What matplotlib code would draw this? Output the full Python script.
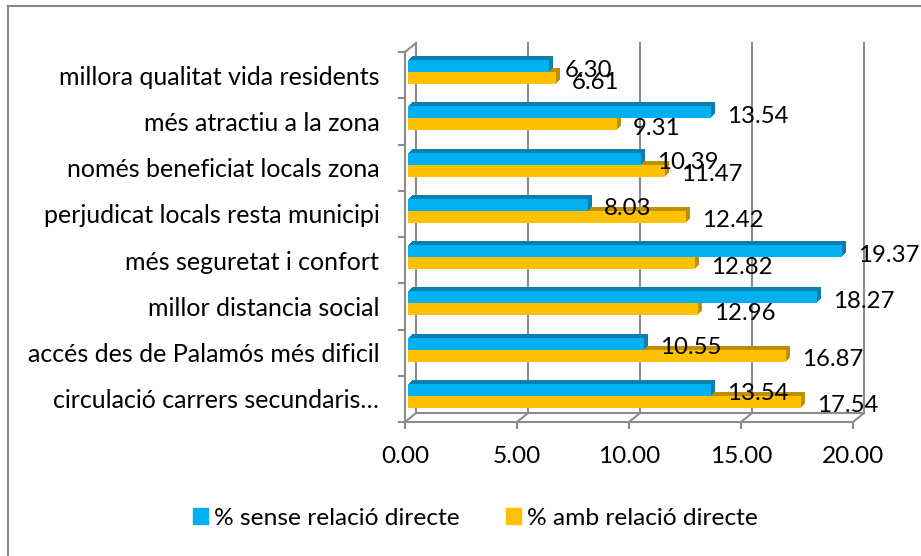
import matplotlib
matplotlib.use("Agg")
import matplotlib.pyplot as plt
import matplotlib.transforms as mtransforms
from matplotlib.lines import Line2D
from matplotlib.patches import Rectangle
from matplotlib.ticker import NullFormatter

categories = [
    "millora qualitat vida residents",
    "més atractiu a la zona",
    "només beneficiat locals zona",
    "perjudicat locals resta municipi",
    "més seguretat i confort",
    "millor distancia social",
    "accés des de Palamós més dificil",
    "circulació carrers secundaris…",
]
sense = [6.30, 13.54, 10.39, 8.03, 19.37, 18.27, 10.55, 13.54]
amb = [6.61, 9.31, 11.47, 12.42, 12.82, 12.96, 16.87, 17.54]
xticks = [0, 5, 10, 15, 20]
series = ["% sense relació directe", "% amb relació directe"]

plt.rcParams['font.family'] = ['Lato', 'DejaVu Sans']

BLUE, BLUE_D = '#00B0F0', '#0B7FAE'
ORANGE, ORANGE_D = '#FFC000', '#BE8F00'
GRID = '#8C8C8C'
LW = 1.5

W, H = 921, 556
fig = plt.figure(figsize=(W / 100, H / 100), dpi=100)
X0, X1, YT, YB = 405, 853, 52, 422
ax = fig.add_axes([X0 / W, 1 - YB / H, (X1 - X0) / W, (YB - YT) / H])
n = len(categories)
ax.patch.set_visible(False)
for s in ['top', 'right']:
    ax.spines[s].set_visible(False)
for s in ['left', 'bottom']:
    ax.spines[s].set_color(GRID)
    ax.spines[s].set_linewidth(LW)
    ax.spines[s].set_zorder(1)

renderer = fig.canvas.get_renderer()


def fit(text, px):
    t = fig.text(0, 0, text, fontsize=10)
    w = t.get_window_extent(renderer).width
    t.remove()
    return 10 * px / w


fs_cat = fit(categories[0], 322)
fs_tick = fit("20.00", 62)
fs_val = fit("19.37", 61)
fs_leg = fit(series[0], 246)

centers = [n - 0.5 - i for i in range(n)]
h = 0.26
yb = [c + h / 2 for c in centers]
yo = [c - h / 2 for c in centers]


def off(dx, dy):
    return mtransforms.offset_copy(ax.transData, fig=fig, x=dx, y=dy, units='dots')


depth = 4
for k in range(depth, 0, -1):
    ax.barh(yo, amb, height=h, color=ORANGE_D, linewidth=0, transform=off(3 + k, 3 + k), zorder=2)
ax.barh(yo, amb, height=h, color=ORANGE, linewidth=0, transform=off(3, 3), zorder=3)
for k in range(depth, 0, -1):
    ax.barh(yb, sense, height=h, color=BLUE_D, linewidth=0, transform=off(3 + k, 3 + k), zorder=3.5)
ax.barh(yb, sense, height=h, color=BLUE, linewidth=0, transform=off(3, 3), zorder=4)

ax.set_xlim(0, 20)
ax.set_ylim(0, n)

# value labels
for vals, ys in ((sense, yb), (amb, yo)):
    for v, y in zip(vals, ys):
        ax.annotate(f"{v:.2f}", xy=(v, y), xytext=(19, 1), textcoords='offset pixels',
                    fontsize=fs_val, va='center_baseline', ha='left', annotation_clip=False, zorder=6)

# axes ticks
ax.set_yticks(range(n + 1))
ax.yaxis.set_major_formatter(NullFormatter())
ax.set_yticks(centers, minor=True)
ax.set_yticklabels(categories, minor=True, fontsize=fs_cat)
ax.tick_params(axis='y', which='major', length=5, width=LW, color=GRID)
ax.tick_params(axis='y', which='minor', length=0, pad=18.5)
ax.set_xticks(xticks)
ax.set_xticklabels([f"{v:.2f}" for v in xticks], fontsize=fs_tick)
ax.tick_params(axis='x', length=5, width=LW, color=GRID, pad=12)

# 3D walls: back gridlines, floor, diagonals
DX, DY = 11, 9
back = off(DX, DY)
for v in xticks:
    ax.plot([v, v], [0, n], color=GRID, lw=LW, transform=back, clip_on=False, zorder=1)
ax.plot([0, 20], [0, 0], color=GRID, lw=LW, transform=back, clip_on=False, zorder=1)
ident = mtransforms.IdentityTransform()
pts = [(v, 0) for v in xticks] + [(0, n)]
for p in pts:
    px, py = ax.transData.transform(p)
    fig.add_artist(Line2D([px, px + DX], [py, py + DY], color=GRID, lw=LW, transform=ident, zorder=1))

# legend
handles = [Rectangle((0, 0), 1, 1, color=BLUE), Rectangle((0, 0), 1, 1, color=ORANGE)]
fpx = fs_leg * 100 / 72
fig.legend(handles, series, loc='center', bbox_to_anchor=(475.5 / W, 1 - 518.5 / H), ncol=2,
           frameon=False, fontsize=fs_leg, handlelength=15 / fpx, handleheight=15 / fpx,
           handletextpad=6 / fpx, columnspacing=46 / fpx, borderpad=0, borderaxespad=0)

# chart border (top and left)
fig.add_artist(Line2D([8 / W, 1], [1 - 6 / H, 1 - 6 / H], color='#878787', lw=1.5, transform=fig.transFigure))
fig.add_artist(Line2D([8 / W, 8 / W], [1 - 6 / H, 0], color='#878787', lw=1.5, transform=fig.transFigure))

fig.savefig('out.png', dpi=100)
